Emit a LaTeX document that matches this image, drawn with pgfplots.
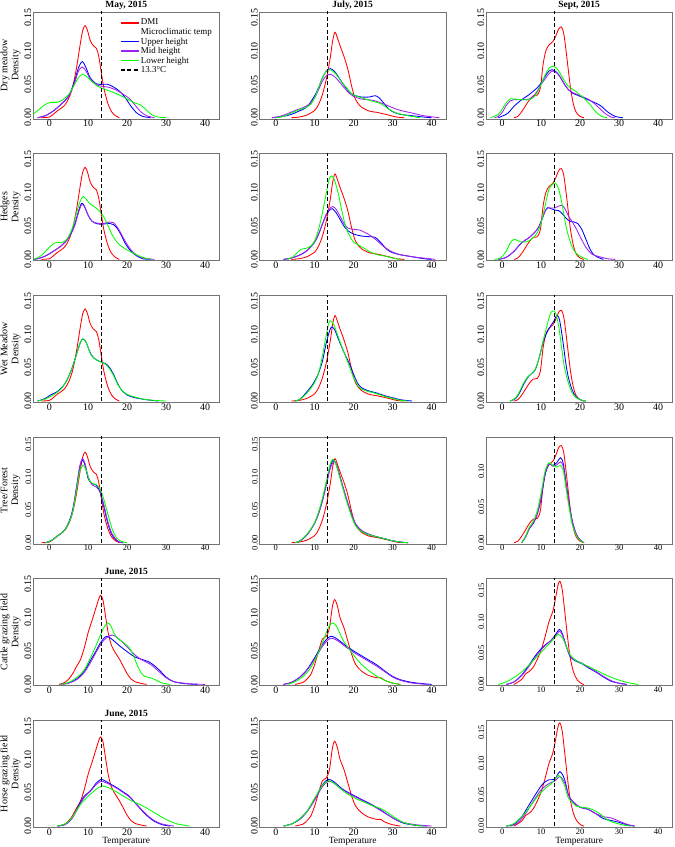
\documentclass[border=0pt]{standalone}
\usepackage{fontspec}
\setmainfont{Liberation Serif}
\usepackage{pgfplots}
\usepackage{pgfplotstable}
\pgfplotsset{compat=1.18}
\usepgfplotslibrary{groupplots}
\usetikzlibrary{calc}
\definecolor{cRed}{HTML}{FF0000}
\definecolor{cBlue}{HTML}{0000FF}
\definecolor{cPurple}{HTML}{A020F0}
\definecolor{cGreen}{HTML}{00FF00}

\pgfplotstableread{
x y
-2 0
0 0.001
1 0.005
2 0.010
3 0.014
4 0.019
5 0.029
6 0.046
7 0.075
8 0.112
8.6 0.131
9.2 0.138
9.8 0.131
10.5 0.116
11.3 0.108
12.1 0.104
12.7 0.092
13.3 0.070
14 0.045
15 0.022
16 0.009
17 0.003
18 0
}\dmiMay

\pgfplotstableread{
x y
4 0
6 0.001
8 0.004
10 0.011
11 0.020
12 0.035
13 0.058
14 0.090
14.6 0.115
15.2 0.128
15.8 0.120
16.5 0.108
17.5 0.092
18.5 0.073
19.5 0.047
20.5 0.027
22 0.016
24 0.010
26 0.008
27.5 0.006
29 0.004
31 0.001
33 0
}\dmiJul

\pgfplotstableread{
x y
3 0
4 0.002
5 0.009
6 0.018
7 0.027
8 0.033
9 0.034
9.8 0.045
10.5 0.080
11.2 0.100
12 0.109
13 0.114
13.8 0.123
14.5 0.133
15.2 0.136
15.8 0.126
16.4 0.100
17 0.070
17.6 0.042
18.3 0.020
19 0.008
20 0.002
21 0
}\dmiSep

\pgfplotstableread{
x y
2.5 0
4 0.003
5 0.008
6 0.016
7 0.027
8 0.037
9 0.055
10 0.078
11 0.096
12 0.115
12.7 0.128
13.2 0.1335
13.8 0.126
14.5 0.100
15.2 0.075
16 0.058
17 0.047
18 0.038
19 0.027
20 0.016
21 0.008
22 0.004
24 0.001
25 0
}\dmiJun

\pgfplotstableread{
x y
5 0
7 0.003
8 0.008
9 0.015
10 0.030
11 0.050
12 0.068
13 0.072
13.8 0.085
14.5 0.115
15.1 0.127
15.8 0.118
16.5 0.100
17.5 0.085
18.5 0.065
19.5 0.045
20.5 0.030
22 0.020
24 0.013
26 0.010
27 0.010
28 0.006
30 0.002
32 0
}\dmiJulB

\pgfplotstableread{
x y
3 0
5 0.008
6 0.017
7 0.021
8 0.028
9 0.040
10 0.055
11 0.076
12 0.100
13 0.117
13.7 0.138
14.3 0.158
14.8 0.165
15.4 0.152
16 0.120
16.7 0.080
17.4 0.045
18.3 0.020
19.3 0.007
20.5 0.001
21 0
}\dmiAug

\pgfplotsset{
  dmi/.style={color=cRed, line width=0.85pt, smooth, forget plot},
  up/.style={color=cBlue, line width=0.85pt, smooth, forget plot},
  mid/.style={color=cPurple, line width=0.85pt, smooth, forget plot},
  low/.style={color=cGreen, line width=0.85pt, smooth, forget plot},
  ref/.style={color=black, line width=0.8pt, dash pattern=on 4pt off 2.5pt, forget plot},
  smallticks/.style={ticklabel style={font=\fontsize{8.5}{9}\selectfont}},
}

\begin{document}
\begin{tikzpicture}
\begin{groupplot}[
  group style={group size=3 by 6, horizontal sep=40pt, vertical sep=35pt},
  width=187pt, height=107pt, scale only axis,
  xmin=-4.2, xmax=43.7, ymin=-0.0015, ymax=0.1584,
  xtick={0,10,20,30,40}, ytick={0,0.05,0.1,0.15},
  /pgf/number format/assume math mode=true,
  ticklabel style={font=\fontsize{10}{11}\selectfont},
  yticklabel style={/pgf/number format/fixed, /pgf/number format/fixed zerofill, /pgf/number format/precision=2, rotate=90, anchor=south, inner sep=1.5pt},
  xticklabel style={anchor=north, inner sep=1.2pt},
  axis line style={black!55},
  major tick length=0pt, tick pos=left,
  no markers,
  every axis title shift=0pt,
  title style={font=\bfseries\fontsize{9.5}{10}\selectfont, at={(axis description cs:0.5,1)}, anchor=south, inner sep=0pt, yshift=2.5pt},
  ylabel style={align=center, font=\fontsize{10}{11}\selectfont, at={(axis description cs:-0.12,0.5)}, anchor=center},
  xlabel style={font=\fontsize{9.5}{10}\selectfont, at={(axis description cs:0.5,0)}, anchor=north, inner sep=0pt, yshift=-10.5pt},
]
%% ---------------- Row 1: Dry meadow
\nextgroupplot[title={May, 2015}, ylabel={Dry meadow\\Density},
  legend style={draw=none, fill=none, at={(axis description cs:0.45,0.965)}, anchor=north west,
    font=\fontsize{9}{10}\selectfont, row sep=-0.6pt, nodes={inner sep=1.2pt}},
  legend cell align=left]
\addlegendimage{legend image code/.code={\draw[cRed, line width=1.6pt] (0pt,0pt) -- (18pt,0pt);}}
\addlegendentry{DMI}
\addlegendimage{legend image code/.code={\path[draw=none] (0pt,0pt) -- (18pt,0pt);}}
\addlegendentry{Microclimatic temp}
\addlegendimage{legend image code/.code={\draw[cBlue, line width=1.6pt] (0pt,0pt) -- (18pt,0pt);}}
\addlegendentry{Upper height}
\addlegendimage{legend image code/.code={\draw[cPurple, line width=1.6pt] (0pt,0pt) -- (18pt,0pt);}}
\addlegendentry{Mid height}
\addlegendimage{legend image code/.code={\draw[cGreen, line width=1.6pt] (0pt,0pt) -- (18pt,0pt);}}
\addlegendentry{Lower height}
\addlegendimage{legend image code/.code={\draw[black, line width=1.6pt, dash pattern=on 4pt off 2.5pt] (0pt,0pt) -- (18pt,0pt);}}
\addlegendentry{13.3°C}
\addplot[dmi] table {\dmiMay};
\addplot[up] coordinates {(-3,0) (-1,0.003) (1,0.01) (3,0.02) (5,0.033) (6.5,0.055) (7.5,0.075) (8.5,0.084) (9.5,0.074) (10.5,0.06) (12,0.051) (13.5,0.05) (15,0.05) (16.5,0.046) (18,0.04) (19.5,0.03) (21,0.017) (22.5,0.007) (24,0.002) (26,0)};
\addplot[mid] coordinates {(-3,0) (-1,0.003) (1,0.01) (3,0.02) (5,0.032) (6.5,0.052) (7.5,0.07) (8.5,0.076) (9.5,0.069) (10.5,0.058) (12,0.05) (13.5,0.047) (15,0.046) (17,0.042) (19,0.035) (20.5,0.029) (22,0.019) (23.5,0.009) (25,0.003) (27,0)};
\addplot[low] coordinates {(-4.2,0.005) (-2.5,0.013) (-1,0.02) (0.5,0.023) (2,0.023) (3.5,0.027) (5,0.035) (6.5,0.05) (7.5,0.06) (8.5,0.065) (9.5,0.062) (11,0.054) (12.5,0.047) (14,0.043) (16,0.039) (18,0.034) (20,0.028) (22,0.022) (23.5,0.019) (25,0.011) (26.5,0.004) (28,0.001) (30,0)};
\addplot[ref] coordinates {(13.3,-0.01) (13.3,0.2)};

\nextgroupplot[title={July, 2015}]
\addplot[dmi] table {\dmiJul};
\addplot[up] coordinates {(-1,0) (2,0.002) (4,0.005) (6,0.01) (8,0.016) (10,0.033) (11,0.045) (12,0.06) (13,0.07) (14,0.0735) (15,0.07) (16,0.062) (17,0.053) (18,0.045) (19,0.038) (20,0.034) (22,0.031) (24,0.031) (25.5,0.033) (26.5,0.03) (28,0.02) (29,0.013) (30,0.009) (32,0.005) (35,0.003) (38,0.001) (40,0)};
\addplot[mid] coordinates {(-1,0) (1,0.002) (3,0.006) (5,0.011) (7,0.015) (9,0.022) (10,0.03) (11,0.042) (12,0.055) (13,0.063) (14,0.065) (15,0.062) (16,0.056) (17,0.049) (18,0.042) (19,0.036) (20,0.032) (22,0.028) (25,0.026) (28,0.02) (30,0.015) (32,0.011) (35,0.007) (38,0.003) (42,0)};
\addplot[low] coordinates {(0,0) (2,0.002) (4,0.007) (6,0.012) (8,0.016) (9,0.02) (10,0.03) (11,0.045) (12,0.06) (13,0.07) (14,0.072) (15,0.068) (16,0.061) (17,0.053) (18,0.046) (19,0.039) (20,0.034) (22,0.03) (24,0.026) (27,0.021) (29,0.013) (31,0.007) (34,0.003) (37,0)};
\addplot[ref] coordinates {(13.3,-0.01) (13.3,0.2)};

\nextgroupplot[title={Sept, 2015}]
\addplot[dmi] table {\dmiSep};
\addplot[up] coordinates {(-1,0) (1,0.005) (2,0.01) (3,0.017) (5,0.027) (7,0.035) (9,0.045) (10,0.052) (11,0.062) (12,0.07) (12.8,0.072) (14,0.068) (15,0.06) (16,0.05) (17,0.042) (18,0.037) (20,0.032) (22,0.027) (24,0.022) (25.5,0.017) (27,0.009) (29,0.002) (31,0)};
\addplot[mid] coordinates {(-2,0) (-1,0.002) (0,0.008) (1,0.018) (2,0.025) (3,0.027) (5,0.027) (7,0.028) (8,0.032) (9,0.04) (10,0.05) (11,0.058) (12,0.066) (13,0.07) (14,0.067) (15,0.06) (16,0.05) (17,0.042) (18,0.038) (20,0.033) (22,0.028) (23.5,0.022) (25,0.014) (26.5,0.006) (28,0.001) (29,0)};
\addplot[low] coordinates {(-3,0) (-1,0.005) (0,0.013) (1,0.022) (2,0.028) (3,0.028) (5,0.027) (7,0.027) (8,0.03) (9,0.038) (10,0.05) (11,0.064) (12,0.074) (13,0.077) (14,0.074) (15,0.065) (16,0.055) (17,0.047) (18,0.043) (19,0.039) (20,0.034) (21,0.029) (22.5,0.02) (24,0.009) (25.5,0.002) (27,0)};
\addplot[ref] coordinates {(13.3,-0.01) (13.3,0.2)};

%% ---------------- Row 2: Hedges
\nextgroupplot[ylabel={Hedges\\Density}]
\addplot[dmi] table {\dmiMay};
\addplot[up] coordinates {(-4,0) (-3,0.001) (-1,0.005) (1,0.012) (3,0.02) (5,0.033) (6.5,0.052) (7.5,0.072) (8.3,0.084) (9,0.08) (10,0.066) (11,0.057) (12.5,0.053) (14,0.053) (15.5,0.054) (16.5,0.052) (17.5,0.046) (18.5,0.036) (19.5,0.024) (21,0.012) (22.5,0.005) (24,0.001) (26,0)};
\addplot[mid] coordinates {(-4,0) (-3,0.001) (-1,0.005) (1,0.012) (3,0.02) (5,0.032) (6.5,0.05) (7.5,0.07) (8.3,0.082) (9,0.079) (10,0.066) (11,0.057) (12.5,0.054) (14,0.054) (15.5,0.056) (16.5,0.055) (17.5,0.048) (18.5,0.038) (19.5,0.027) (21,0.014) (22.5,0.006) (24,0.002) (27,0)};
\addplot[low] coordinates {(-4,0) (-2,0.006) (0,0.018) (1.5,0.025) (3,0.025) (4.5,0.03) (6,0.048) (7,0.07) (8,0.088) (8.7,0.094) (9.5,0.09) (10.5,0.083) (12,0.077) (13.5,0.068) (14.5,0.058) (15.5,0.045) (16.5,0.033) (18,0.022) (20,0.014) (22,0.008) (24,0.003) (26,0)};
\addplot[ref] coordinates {(13.3,-0.01) (13.3,0.2)};

\nextgroupplot
\addplot[dmi] table {\dmiJul};
\addplot[up] coordinates {(2,0) (4,0.002) (6,0.006) (8,0.013) (10,0.026) (11,0.038) (12,0.053) (13,0.067) (14,0.075) (14.5,0.076) (15.5,0.07) (16.5,0.06) (17.5,0.05) (18.5,0.043) (20,0.038) (22,0.035) (24,0.034) (25.5,0.033) (27,0.025) (28.5,0.015) (30,0.01) (32,0.007) (34,0.005) (36,0.003) (38,0.001) (40,0)};
\addplot[mid] coordinates {(2,0) (4,0.002) (6,0.006) (8,0.013) (10,0.026) (11,0.038) (12,0.053) (13,0.068) (14,0.077) (14.7,0.079) (15.5,0.075) (16.5,0.065) (17.5,0.054) (18.5,0.047) (20,0.045) (21.5,0.044) (23,0.04) (24.5,0.035) (26,0.028) (28,0.018) (30,0.011) (32,0.007) (35,0.004) (38,0.002) (41,0)};
\addplot[low] coordinates {(3,0) (4.5,0.004) (5.5,0.01) (6.5,0.015) (8,0.017) (9,0.02) (10,0.028) (11,0.045) (12,0.07) (13,0.1) (13.7,0.12) (14.3,0.125) (15,0.12) (16,0.1) (17,0.072) (18,0.048) (19,0.035) (20,0.026) (22,0.019) (24,0.012) (26,0.007) (28,0.005) (30,0.002) (32,0)};
\addplot[ref] coordinates {(13.3,-0.01) (13.3,0.2)};

\nextgroupplot
\addplot[dmi] table {\dmiSep};
\addplot[up] coordinates {(-1,0) (1,0.003) (3,0.012) (5,0.025) (7,0.033) (9,0.045) (10,0.057) (11,0.072) (11.7,0.0775) (12.5,0.076) (13.5,0.074) (14.5,0.073) (15.5,0.068) (16.5,0.061) (17.5,0.057) (18.5,0.056) (19.5,0.053) (20.5,0.044) (21.5,0.03) (22.5,0.016) (23.5,0.007) (25,0.002) (26,0)};
\addplot[mid] coordinates {(-1,0) (1,0.003) (3,0.012) (5,0.025) (7,0.033) (9,0.045) (10,0.057) (11,0.072) (11.7,0.077) (12.5,0.077) (13.5,0.077) (14.5,0.08) (15.3,0.081) (16,0.077) (17,0.065) (18,0.056) (19,0.046) (20,0.034) (21.5,0.018) (23,0.008) (25,0.004) (27,0.001) (29,0)};
\addplot[low] coordinates {(-2,0) (-0.5,0.002) (1,0.012) (2,0.024) (3,0.03) (4,0.028) (5,0.026) (6,0.026) (7.5,0.03) (9,0.04) (10,0.055) (11,0.08) (12,0.105) (13,0.113) (13.7,0.114) (14.5,0.105) (15.3,0.085) (16.2,0.055) (17,0.035) (18,0.018) (19,0.009) (20.5,0.003) (22,0)};
\addplot[ref] coordinates {(13.3,-0.01) (13.3,0.2)};

%% ---------------- Row 3: Wet meadow
\nextgroupplot[ylabel={Wet Meadow\\Density}]
\addplot[dmi] table {\dmiMay};
\addplot[up] coordinates {(-3,0) (-1,0.004) (0,0.008) (1,0.011) (2,0.014) (3,0.019) (4,0.026) (5,0.037) (6,0.052) (7,0.07) (8,0.088) (8.6,0.093) (9.3,0.09) (10,0.08) (10.8,0.069) (12,0.062) (13.5,0.058) (14.5,0.056) (15.5,0.05) (16.5,0.04) (17.5,0.027) (18.5,0.017) (20,0.009) (22,0.005) (25,0.002) (28,0)};
\addplot[low] coordinates {(-3,0) (-1,0.003) (0,0.006) (1,0.009) (2,0.013) (3,0.018) (4,0.026) (5,0.037) (6,0.052) (7,0.07) (8,0.088) (8.6,0.093) (9.3,0.09) (10,0.08) (10.8,0.068) (12,0.062) (13.5,0.058) (14.5,0.055) (15.5,0.048) (16.5,0.038) (17.5,0.026) (18.5,0.017) (20,0.01) (22,0.006) (25,0.002) (30,0)};
\addplot[ref] coordinates {(13.3,-0.01) (13.3,0.2)};

\nextgroupplot
\addplot[dmi] table {\dmiJul};
\addplot[up] coordinates {(5,0) (6,0.002) (7,0.007) (8,0.014) (9,0.021) (10,0.03) (11,0.042) (12,0.06) (13,0.088) (14,0.108) (14.5,0.111) (15.2,0.106) (16,0.094) (17,0.08) (18,0.067) (19,0.055) (20,0.04) (21,0.027) (22,0.02) (24,0.015) (26,0.012) (28,0.008) (30,0.005) (32,0.002) (35,0)};
\addplot[low] coordinates {(5,0) (6,0.002) (7,0.006) (8,0.012) (9,0.019) (10,0.028) (11,0.042) (12,0.068) (13,0.1) (13.7,0.118) (14.2,0.12) (15,0.113) (16,0.097) (17,0.081) (18,0.066) (19,0.05) (20,0.035) (21,0.024) (22,0.018) (24,0.014) (26,0.011) (28,0.007) (30,0.004) (32,0.001) (34,0)};
\addplot[ref] coordinates {(13.3,-0.01) (13.3,0.2)};

\nextgroupplot
\addplot[dmi] table {\dmiSep};
\addplot[up] coordinates {(2,0) (3.5,0.004) (4.5,0.013) (5.5,0.025) (6.5,0.035) (7.5,0.041) (8.5,0.047) (9.5,0.065) (10.5,0.088) (11.5,0.103) (12.5,0.113) (13.3,0.12) (14,0.128) (14.7,0.122) (15.5,0.093) (16.3,0.058) (17,0.035) (18,0.016) (19,0.006) (20.5,0.001) (21.5,0)};
\addplot[low] coordinates {(2,0) (3.5,0.005) (4.5,0.015) (5.5,0.027) (6.5,0.036) (7.5,0.041) (8.5,0.048) (9.5,0.065) (10.5,0.09) (11.5,0.113) (12.3,0.13) (13,0.135) (13.7,0.132) (14.5,0.112) (15.3,0.078) (16,0.05) (17,0.027) (18,0.012) (19,0.005) (20.5,0.001) (21.5,0)};
\addplot[ref] coordinates {(13.3,-0.01) (13.3,0.2)};

%% ---------------- Row 4: Tree/Forest
\nextgroupplot[ylabel={Tree/Forest\\Density}, smallticks, ymax=0.161]
\addplot[dmi] table {\dmiMay};
\addplot[up] coordinates {(-1,0) (0,0.002) (1,0.005) (2,0.01) (3,0.014) (4,0.02) (5,0.031) (6,0.05) (7,0.085) (7.8,0.115) (8.5,0.126) (9.2,0.118) (10,0.097) (11,0.09) (12,0.088) (13,0.078) (14,0.055) (15,0.03) (16,0.013) (17,0.005) (18,0.001) (19,0)};
\addplot[mid] coordinates {(-1,0) (0,0.002) (1,0.005) (2,0.01) (3,0.014) (4,0.02) (5,0.03) (6,0.048) (7,0.083) (7.8,0.115) (8.5,0.128) (9.2,0.12) (10,0.1) (11,0.088) (12,0.085) (13,0.078) (14,0.058) (15,0.033) (16,0.015) (17,0.006) (18,0.001) (19,0)};
\addplot[low] coordinates {(-1,0) (0,0.002) (1,0.005) (2,0.01) (3,0.014) (4,0.02) (5,0.03) (6,0.047) (7,0.08) (7.8,0.108) (8.7,0.118) (9.5,0.11) (10.3,0.095) (11.2,0.09) (12.2,0.088) (13.2,0.08) (14.2,0.062) (15.2,0.04) (16.2,0.02) (17.2,0.008) (18.5,0.002) (20,0)};
\addplot[ref] coordinates {(13.3,-0.01) (13.3,0.2)};

\nextgroupplot[smallticks, ymax=0.161]
\addplot[dmi] table {\dmiJul};
\addplot[up] coordinates {(5,0) (6,0.002) (7,0.006) (8,0.012) (9,0.02) (10,0.03) (11,0.045) (12,0.065) (13,0.09) (14,0.116) (14.8,0.126) (15.6,0.118) (16.5,0.1) (17.5,0.08) (18.5,0.06) (19.5,0.042) (20.5,0.028) (22,0.018) (24,0.012) (26,0.009) (28,0.006) (30,0.003) (32,0.001) (34,0)};
\addplot[mid] coordinates {(5,0) (6,0.002) (7,0.006) (8,0.012) (9,0.02) (10,0.03) (11,0.044) (12,0.063) (13,0.088) (14,0.113) (15,0.124) (15.8,0.116) (16.6,0.099) (17.5,0.08) (18.5,0.061) (19.5,0.043) (20.5,0.029) (22,0.019) (24,0.013) (26,0.009) (28,0.006) (30,0.003) (32,0.001) (34,0)};
\addplot[low] coordinates {(5,0) (6,0.002) (7,0.007) (8,0.013) (9,0.021) (10,0.031) (11,0.047) (12,0.068) (13,0.094) (14,0.12) (14.7,0.127) (15.5,0.119) (16.4,0.1) (17.4,0.079) (18.4,0.059) (19.4,0.041) (20.4,0.027) (22,0.017) (24,0.012) (26,0.009) (28,0.006) (30,0.003) (32,0.001) (34,0)};
\addplot[ref] coordinates {(13.3,-0.01) (13.3,0.2)};

\nextgroupplot[smallticks, ymax=0.148]
\addplot[dmi] table {\dmiSep};
\addplot[up] coordinates {(5,0) (6,0.008) (7,0.02) (8,0.027) (9,0.04) (10,0.062) (11,0.095) (12,0.11) (13,0.108) (14,0.112) (15,0.119) (15.7,0.11) (16.5,0.08) (17.3,0.05) (18,0.03) (19,0.012) (20,0.004) (21,0)};
\addplot[mid] coordinates {(5,0) (6,0.008) (7,0.02) (8,0.028) (9,0.04) (10,0.064) (11,0.097) (12,0.11) (13,0.107) (14,0.109) (15,0.113) (15.7,0.106) (16.5,0.078) (17.3,0.05) (18,0.03) (19,0.012) (20,0.004) (21,0)};
\addplot[low] coordinates {(5,0) (6,0.009) (7,0.022) (8,0.03) (9,0.045) (10,0.07) (11,0.1) (12,0.112) (13,0.108) (14,0.106) (15,0.108) (15.7,0.1) (16.5,0.072) (17.3,0.045) (18,0.025) (19,0.01) (20,0.003) (21,0)};
\addplot[ref] coordinates {(13.3,-0.01) (13.3,0.2)};

%% ---------------- Row 5: Cattle grazing field
\nextgroupplot[title={June, 2015}, ylabel={Cattle grazing field\\Density}]
\addplot[dmi] table {\dmiJun};
\addplot[up] coordinates {(3,0) (5,0.002) (7,0.008) (9,0.02) (11,0.04) (12,0.05) (13,0.061) (14,0.069) (14.8,0.072) (16,0.068) (18,0.058) (20,0.049) (22,0.041) (24,0.037) (25.5,0.034) (27,0.028) (28.5,0.02) (30,0.011) (32,0.004) (35,0.001) (38,0)};
\addplot[mid] coordinates {(3,0) (5,0.002) (7,0.007) (9,0.018) (11,0.037) (12,0.048) (13,0.058) (14,0.066) (15,0.071) (16.2,0.074) (17.5,0.07) (19,0.062) (20.5,0.053) (22,0.044) (24,0.036) (26,0.03) (28,0.02) (30,0.01) (32,0.004) (36,0.001) (40,0)};
\addplot[low] coordinates {(3,0) (5,0.003) (7,0.01) (9,0.022) (11,0.045) (12,0.058) (13,0.072) (14,0.085) (15,0.092) (15.8,0.088) (16.5,0.078) (17.5,0.069) (19,0.063) (20.5,0.055) (21.5,0.045) (22.5,0.03) (23.5,0.018) (24.5,0.012) (26,0.01) (27.5,0.006) (29,0.002) (31,0)};
\addplot[ref] coordinates {(13.3,-0.01) (13.3,0.2)};

\nextgroupplot
\addplot[dmi] table {\dmiJulB};
\addplot[up] coordinates {(2,0) (4,0.003) (6,0.01) (8,0.022) (10,0.04) (12,0.06) (13.5,0.07) (14.5,0.072) (16,0.067) (18,0.058) (20,0.05) (22,0.043) (24,0.036) (26,0.029) (28,0.02) (30,0.012) (32,0.007) (35,0.003) (38,0.001) (40,0)};
\addplot[mid] coordinates {(2,0) (4,0.003) (6,0.01) (8,0.021) (10,0.038) (12,0.057) (13.5,0.067) (14.5,0.069) (16,0.065) (18,0.056) (20,0.048) (22,0.041) (24,0.034) (26,0.027) (28,0.019) (30,0.011) (32,0.006) (35,0.002) (39,0)};
\addplot[low] coordinates {(3,0) (5,0.004) (7,0.012) (9,0.025) (11,0.048) (12.5,0.07) (13.5,0.085) (14.5,0.092) (15.5,0.088) (16.5,0.076) (17.5,0.064) (19,0.052) (20.5,0.04) (22,0.03) (24,0.02) (26,0.012) (28,0.006) (30,0.002) (32,0)};
\addplot[ref] coordinates {(13.3,-0.01) (13.3,0.2)};

\nextgroupplot[smallticks, ymax=0.169]
\addplot[dmi] table {\dmiAug};
\addplot[up] coordinates {(1,0) (3,0.004) (5,0.015) (7,0.032) (9,0.05) (11,0.063) (12.5,0.07) (13.5,0.078) (14.7,0.088) (15.5,0.08) (16.5,0.06) (17.5,0.044) (19,0.037) (20.5,0.033) (22,0.027) (24,0.02) (26,0.012) (28,0.005) (30,0.002) (32,0)};
\addplot[mid] coordinates {(1,0) (3,0.004) (5,0.014) (7,0.03) (9,0.048) (11,0.062) (12.5,0.07) (13.5,0.076) (14.7,0.085) (15.5,0.078) (16.5,0.06) (17.5,0.045) (19,0.038) (20.5,0.034) (22,0.028) (24,0.021) (26,0.013) (28,0.006) (30,0.002) (32,0)};
\addplot[low] coordinates {(-1,0) (1,0.004) (3,0.011) (5,0.02) (7,0.032) (9,0.045) (11,0.058) (12.5,0.068) (13.5,0.075) (14.5,0.08) (15.5,0.074) (16.5,0.06) (17.5,0.047) (19,0.038) (21,0.032) (23,0.026) (25,0.02) (27,0.014) (29,0.009) (31,0.005) (33,0.002) (35,0)};
\addplot[ref] coordinates {(13.3,-0.01) (13.3,0.2)};

%% ---------------- Row 6: Horse grazing field
\nextgroupplot[title={June, 2015}, ylabel={Horse grazing field\\Density}, xlabel={Temperature}]
\addplot[dmi] table {\dmiJun};
\addplot[up] coordinates {(2,0) (4,0.002) (5,0.006) (6,0.013) (7,0.024) (8,0.036) (9,0.045) (10,0.05) (11,0.056) (12,0.064) (13.3,0.07) (14.5,0.067) (16,0.062) (17.5,0.057) (19,0.051) (20.5,0.045) (22,0.035) (23.5,0.025) (25,0.016) (27,0.007) (29,0.002) (31,0)};
\addplot[mid] coordinates {(2,0) (4,0.002) (5,0.006) (6,0.013) (7,0.023) (8,0.034) (9,0.043) (10,0.049) (11,0.055) (12,0.062) (13.3,0.067) (14.5,0.065) (16,0.061) (17.5,0.056) (19,0.05) (20.5,0.044) (22,0.035) (23.5,0.026) (25,0.017) (27,0.008) (29,0.003) (32,0)};
\addplot[low] coordinates {(2,0) (4,0.003) (5,0.007) (6,0.014) (7,0.023) (8,0.032) (9,0.039) (10,0.045) (11,0.05) (12,0.055) (13.5,0.06) (15,0.058) (17,0.052) (19,0.045) (21,0.038) (23,0.033) (25,0.027) (27,0.02) (29,0.013) (31,0.007) (33,0.003) (36,0)};
\addplot[ref] coordinates {(13.3,-0.01) (13.3,0.2)};

\nextgroupplot[xlabel={Temperature}]
\addplot[dmi] table {\dmiJulB};
\addplot[up] coordinates {(2,0) (4,0.003) (6,0.01) (8,0.022) (10,0.04) (12,0.062) (13.5,0.07) (15,0.066) (17,0.056) (19,0.049) (21,0.043) (23,0.037) (25,0.031) (27,0.024) (29,0.016) (31,0.009) (33,0.004) (36,0.001) (39,0)};
\addplot[mid] coordinates {(2,0) (4,0.003) (6,0.009) (8,0.021) (10,0.039) (12,0.059) (13.5,0.067) (15,0.064) (17,0.055) (19,0.048) (21,0.042) (23,0.036) (25,0.03) (27,0.023) (29,0.016) (31,0.009) (33,0.005) (36,0.002) (40,0)};
\addplot[low] coordinates {(2,0) (4,0.003) (6,0.01) (8,0.022) (10,0.042) (12,0.061) (13.5,0.068) (15,0.064) (17,0.054) (19,0.046) (21,0.04) (23,0.035) (25,0.03) (27,0.026) (29,0.019) (31,0.011) (33,0.005) (36,0.001) (38,0)};
\addplot[ref] coordinates {(13.3,-0.01) (13.3,0.2)};

\nextgroupplot[xlabel={Temperature}, smallticks, ymax=0.169]
\addplot[dmi] table {\dmiAug};
\addplot[up] coordinates {(1,0) (3,0.003) (5,0.015) (7,0.035) (9,0.055) (10.5,0.068) (12,0.074) (13.5,0.075) (14.8,0.087) (16,0.075) (17,0.05) (18,0.04) (20,0.03) (22,0.027) (24,0.02) (26,0.012) (28,0.009) (30,0.006) (32,0.002) (34,0)};
\addplot[mid] coordinates {(2,0) (4,0.005) (6,0.02) (8,0.04) (10,0.058) (12,0.068) (13.5,0.072) (14.8,0.079) (16,0.07) (17,0.05) (18,0.04) (20,0.03) (22,0.027) (24,0.02) (26,0.015) (28,0.013) (30,0.008) (32,0.003) (34,0)};
\addplot[low] coordinates {(1,0) (3,0.004) (5,0.015) (7,0.03) (9,0.047) (11,0.06) (13,0.07) (14.5,0.081) (16,0.065) (17,0.045) (19,0.032) (21,0.03) (23,0.027) (25,0.02) (27,0.01) (29,0.005) (31,0.002) (33,0)};
\addplot[ref] coordinates {(13.3,-0.01) (13.3,0.2)};
\end{groupplot}
\pgfresetboundingbox
\path ($(group c1r1.north west)+(-33pt,12pt)$) rectangle ($(group c3r6.south east)+(2pt,-20pt)$);
\end{tikzpicture}
\end{document}
